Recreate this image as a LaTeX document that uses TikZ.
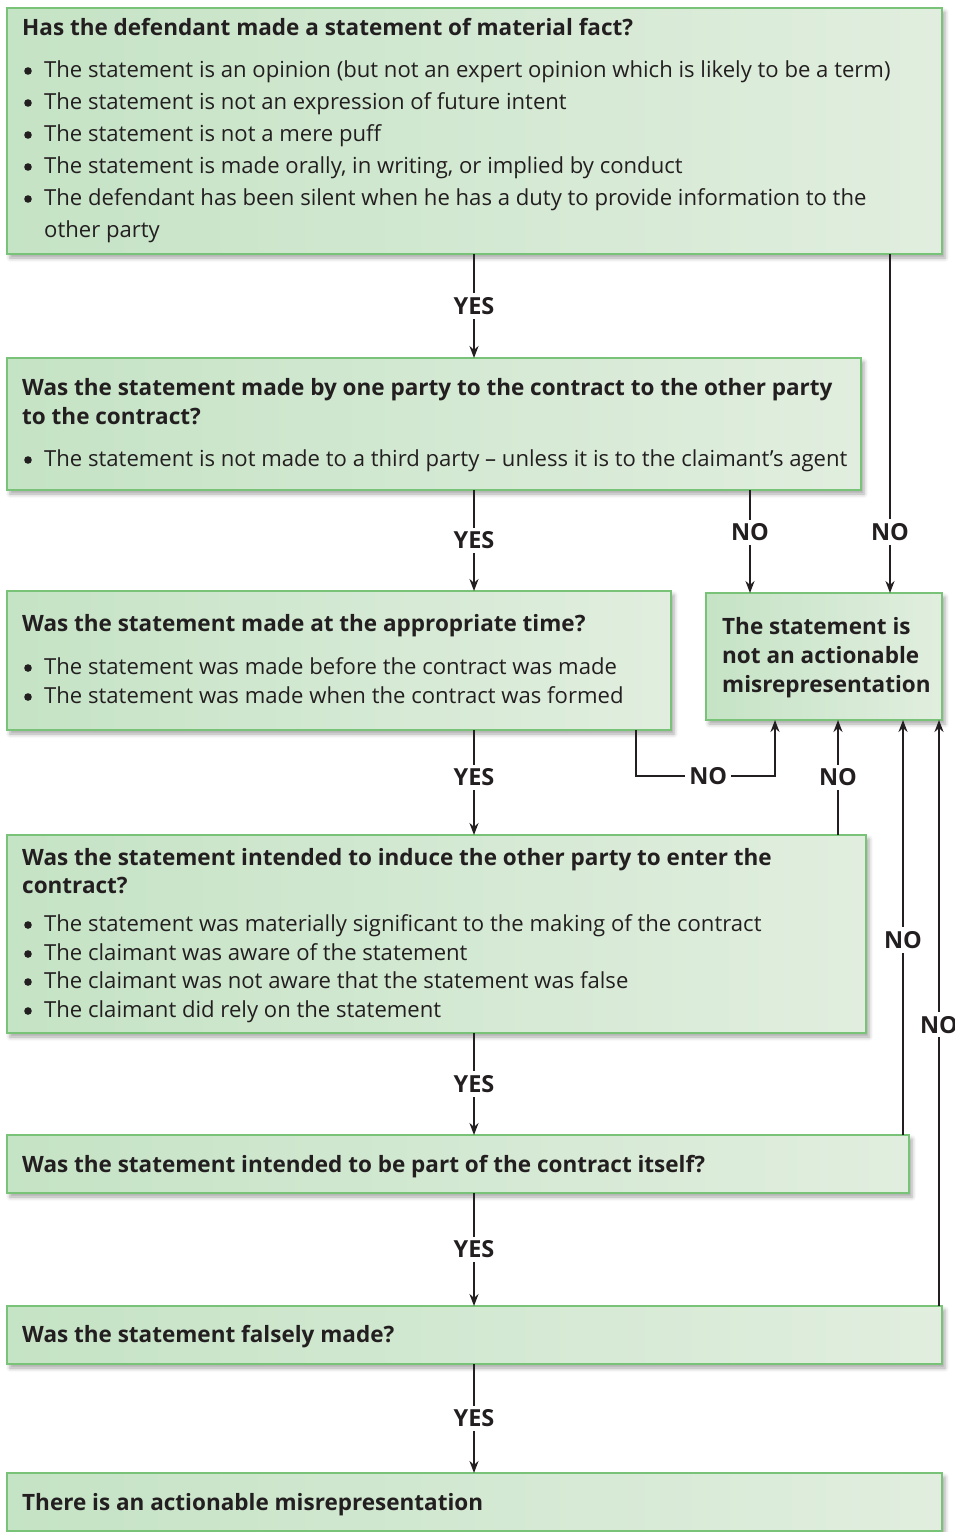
\documentclass[tikz,border=0pt]{standalone}
\usepackage{fontspec}
\setmainfont{Open Sans}
\usetikzlibrary{arrows.meta,shadows.blur}

\definecolor{ink}{HTML}{231F20}
\definecolor{edge}{HTML}{78C378}
\definecolor{gL}{HTML}{C5E3C5}
\definecolor{gM}{HTML}{F6FBF5}
\definecolor{gR}{HTML}{E1EEDF}

\tikzset{
  panel/.style={draw=edge, line width=1.8pt, left color=gL, middle color=gM, right color=gR,
    blur shadow={shadow xshift=3pt, shadow yshift=-4pt, shadow blur radius=4pt, shadow opacity=35},
    inner sep=0pt, outer sep=0pt, anchor=north west},
  ttl/.style={inner sep=0pt, anchor=base west, text=ink, font=\fontsize{22.5}{26}\selectfont\bfseries},
  itm/.style={inner sep=0pt, anchor=base west, text=ink, font=\fontsize{22.1}{26}\selectfont},
  lab/.style={fill=white, inner sep=4pt, text=ink, font=\fontsize{23.5}{26}\selectfont\bfseries},
  arr/.style={draw=ink, line width=2pt, -{Stealth[length=12pt,width=9pt]}},
}

% title line, bullet item and continuation line inside a panel;
% the second argument is the height of the middle of the lower-case letters
\newcommand\boxtitle[3]{\node[ttl] (#1) at (22,#2+6) {#3};}
\newcommand\boxitem[3]{\fill[ink] (28,#2) circle (3.8pt); \node[itm] (#1) at (44,#2+6) {#3};}
\newcommand\boxcont[3]{\node[itm] (#1) at (44,#2+6) {#3};}

\begin{document}
\begin{tikzpicture}[x=1pt,y=-1pt]
\useasboundingbox (0,0) rectangle (955,1532);

% question panels
\node[panel, minimum width=935pt, minimum height=246pt] (q1) at (7,8) {};
\node[panel, minimum width=854pt, minimum height=132pt] (q2) at (7,358) {};
\node[panel, minimum width=664pt, minimum height=139pt] (q3) at (7,591) {};
\node[panel, minimum width=236pt, minimum height=127pt] (q4) at (706,593) {};
\node[panel, minimum width=859pt, minimum height=198pt] (q5) at (7,835) {};
\node[panel, minimum width=902pt, minimum height=58pt] (q6) at (7,1135) {};
\node[panel, minimum width=935pt, minimum height=58pt] (q7) at (7,1306) {};
\node[panel, minimum width=935pt, minimum height=58pt] (q8) at (7,1473) {};

% panel texts
\boxtitle{t1}{29}{Has the defendant made a statement of material fact?}
\boxitem{t1a}{71}{The statement is an opinion (but not an expert opinion which is likely to be a term)}
\boxitem{t1b}{103}{The statement is not an expression of future intent}
\boxitem{t1c}{135}{The statement is not a mere puff}
\boxitem{t1d}{167}{The statement is made orally, in writing, or implied by conduct}
\boxitem{t1e}{199}{The defendant has been silent when he has a duty to provide information to the}
\boxcont{t1f}{231}{other party}

\boxtitle{t2}{389}{Was the statement made by one party to the contract to the other party}
\boxtitle{t2x}{418}{to the contract?}
\boxitem{t2a}{460}{The statement is not made to a third party – unless it is to the claimant’s agent}

\boxtitle{t3}{625}{Was the statement made at the appropriate time?}
\boxitem{t3a}{668}{The statement was made before the contract was made}
\boxitem{t3b}{697}{The statement was made when the contract was formed}

\node[ttl] (t4a) at (722,634) {The statement is};
\node[ttl] (t4b) at (722,663) {not an actionable};
\node[ttl] (t4c) at (722,692) {misrepresentation};

\boxtitle{t5}{859}{Was the statement intended to induce the other party to enter the}
\boxtitle{t5x}{887}{contract?}
\boxitem{t5a}{925}{The statement was materially significant to the making of the contract}
\boxitem{t5b}{954}{The claimant was aware of the statement}
\boxitem{t5c}{982}{The claimant was not aware that the statement was false}
\boxitem{t5d}{1011}{The claimant did rely on the statement}

\boxtitle{t6}{1166}{Was the statement intended to be part of the contract itself?}
\boxtitle{t7}{1336}{Was the statement falsely made?}
\boxtitle{t8}{1504}{There is an actionable misrepresentation}

% x positions of the connectors
\coordinate (mid) at (474,0);
\coordinate (c636) at (636,0);
\coordinate (c750) at (750,0);
\coordinate (c838) at (838,0);
\coordinate (c890) at (890,0);
\coordinate (c903) at (903,0);
\coordinate (c939) at (939,0);
\coordinate (k3) at (775,776);

% YES path
\draw[arr] (q1.south -| mid) -- node[lab]{YES} (q2.north -| mid);
\draw[arr] (q2.south -| mid) -- node[lab]{YES} (q3.north -| mid);
\draw[arr] (q3.south -| mid) -- node[lab, pos=0.45]{YES} (q5.north -| mid);
\draw[arr] (q5.south -| mid) -- node[lab]{YES} (q6.north -| mid);
\draw[arr] (q6.south -| mid) -- node[lab]{YES} (q7.north -| mid);
\draw[arr] (q7.south -| mid) -- node[lab]{YES} (q8.north -| mid);

% NO branches
\draw[arr] (q1.south -| c890) -- node[lab, pos=0.82]{NO} (q4.north -| c890);
\draw[arr] (q2.south -| c750) -- node[lab, pos=0.41]{NO} (q4.north -| c750);
\draw[arr] (q3.south -| c636) |- node[lab, pos=0.76]{NO} (k3) -- (q4.south -| k3);
\draw[arr] (q5.north -| c838) -- node[lab, pos=0.5]{NO} (q4.south -| c838);
\draw[arr] (q6.north -| c903) -- node[lab, pos=0.47]{NO} (q4.south -| c903);
\draw[arr] (q7.north -| c939) -- node[lab, pos=0.48]{NO} (q4.south -| c939);
\end{tikzpicture}
\end{document}
